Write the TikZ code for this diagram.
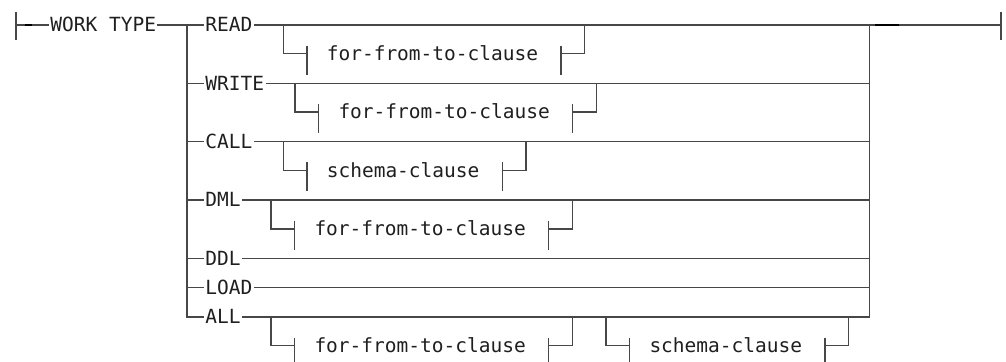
\documentclass[tikz,border=0pt]{standalone}
\usepackage{fontspec}
\setmonofont{DejaVu Sans Mono}
\begin{document}
\begin{tikzpicture}[x=0.5pt, y=-0.5pt,
  rail/.style={draw=black!72, line width=0.7pt},
  kw/.style={anchor=west, inner xsep=0.5pt, inner ysep=0pt, text height=6.7pt,
    text depth=0pt, text=black!88, font=\fontsize{9.75}{11}\selectfont\ttfamily}]
  \clip (0,0) rectangle (1006,362);
  \coordinate (st) at (16,25);
  \coordinate (br) at (187,25);
  \coordinate (jn) at (869.3,25);
  \coordinate (en) at (1001,25);
  \node[kw] (wt) at (49,25) {WORK TYPE};
  \draw[rail] ([yshift=6.5pt]st) -- ([yshift=-7.5pt]st);
  \draw[rail] ([yshift=6.5pt]en) -- ([yshift=-7.5pt]en);
  \draw[rail] (st) -- (wt.west);
  \draw[rail] (wt.east) -- (br);
  \draw[rail] (jn) -- (en);
  \draw[line width=0.9pt, black] (25,25) -- (32,25);
  \draw[line width=0.9pt, black] (875,25) -- (899,25);
  % alternatives
  \foreach \nm/\yr/\lab in {read/25/READ, write/83.4/WRITE, call/141.8/CALL,
    dml/200.2/DML, ddl/258.6/DDL, load/287.8/LOAD, all/317/ALL}
  {
    \node[kw] (\nm) at (204,\yr) {\lab};
    \draw[rail] (br |- \nm.west) -- (\nm.west);
    \draw[rail] (\nm.east) -- (jn |- \nm.east);
  }
  \draw[rail] (br) |- (all.west);
  \draw[rail] (jn) |- (all.east);
  % fragments hanging under a row
  \foreach \cn/\hx/\yr/\txt in {rf/283.3/25/for-from-to-clause,
    wf/295/83.4/for-from-to-clause, cs/283.3/141.8/schema-clause,
    df/271/200.2/for-from-to-clause, af/271/317/for-from-to-clause,
    as/606/317/schema-clause}
  {
    \coordinate (\cn-a) at (\hx,\yr);
    \coordinate (\cn-b) at (\hx+23.5,\yr+28.7);
    \node[kw] (\cn) at ([xshift=9.3pt]\cn-b) {\txt};
    \coordinate (\cn-c) at ([xshift=10.75pt]\cn.east);
    \coordinate (\cn-d) at ([xshift=11.75pt]\cn-c);
    \draw[rail] (\cn-a) |- (\cn-b);
    \draw[rail] (\cn-c) -| (\cn-d |- \cn-a);
    \draw[rail] ([yshift=4pt]\cn-b) -- ([yshift=-10.5pt]\cn-b);
    \draw[rail] ([yshift=4pt]\cn-c) -- ([yshift=-10.5pt]\cn-c);
  }
\end{tikzpicture}
\end{document}
